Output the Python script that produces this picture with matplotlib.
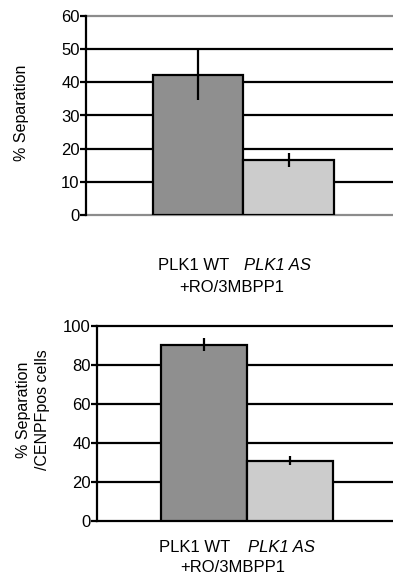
import matplotlib.pyplot as plt

# datos
groups = ["PLK1 WT", "PLK1 AS"]
sep_vals = [42.2, 16.5]
sep_err = [7.5, 2.1]
cenpf_vals = [90.3, 30.9]
cenpf_err = [3.3, 2.5]
bar_colors = ["#8f8f8f", "#cccccc"]
ticks_top = [0, 10, 20, 30, 40, 50, 60]
ticks_bot = [0, 20, 40, 60, 80, 100]

plt.rcParams['font.family'] = ['Liberation Sans', 'DejaVu Sans']
fs = 12

W, H = 393, 574
fig = plt.figure(figsize=(W / 100, H / 100), dpi=100)


def px(x, y):
    return x / W, 1 - y / H


def panel(ax, vals, errs, ticks, ylim, xlim, grey_edges):
    x = list(range(len(vals)))
    ax.bar(x, vals, width=1.0, color=bar_colors, edgecolor="black", linewidth=1.6, zorder=3)
    ax.errorbar(x, vals, yerr=errs, fmt="none", ecolor="black", elinewidth=1.6, capsize=0, zorder=4)
    ax.set_xlim(*xlim)
    ax.set_ylim(*ylim)
    ax.set_yticks(ticks)
    ax.set_xticks([])
    for t in ticks:
        c = "black"
        if grey_edges and (t == ticks[0] or t == ticks[-1]):
            c = "#8c8c8c"
        ax.axhline(t, color=c, linewidth=1.6, zorder=1, clip_on=False)
    for s in ["top", "right", "bottom"]:
        ax.spines[s].set_visible(False)
    ax.spines["left"].set_linewidth(1.6)
    ax.spines["left"].set_zorder(5)
    ax.tick_params(axis="y", length=4, width=1.6, pad=0.5, labelsize=fs)


ax1 = fig.add_axes([86 / W, 1 - 215 / H, 1 - 86 / W, (215 - 16) / H])
panel(ax1, sep_vals, sep_err, ticks_top, (0, 60), (-1.236, 2.148), True)

ax2 = fig.add_axes([97 / W, 1 - 520.7 / H, 1 - 97 / W, (520.7 - 326) / H])
panel(ax2, cenpf_vals, cenpf_err, ticks_bot, (0, 100), (-1.244, 2.198), False)

# titulos de los ejes y
fig.text(*px(22, 113), "% Separation", rotation=90, ha="center", va="center", fontsize=11.5)
fig.text(*px(33, 410), "% Separation\n/CENPFpos cells", rotation=90, ha="center", va="center",
         fontsize=11.5, linespacing=1.35)

# etiquetas del eje x
fig.text(*px(194, 265), "PLK1 WT", ha="center", va="center", fontsize=fs)
fig.text(*px(277, 265), "PLK1 AS", ha="center", va="center", fontsize=fs, style="italic")
fig.text(*px(232, 287), "+RO/3MBPP1", ha="center", va="center", fontsize=fs)

fig.text(*px(195, 548), "PLK1 WT", ha="center", va="center", fontsize=fs)
fig.text(*px(282, 548), "PLK1 AS", ha="center", va="center", fontsize=fs, style="italic")
fig.text(*px(233, 568), "+RO/3MBPP1", ha="center", va="center", fontsize=fs)

fig.savefig("out.png", dpi=100)
